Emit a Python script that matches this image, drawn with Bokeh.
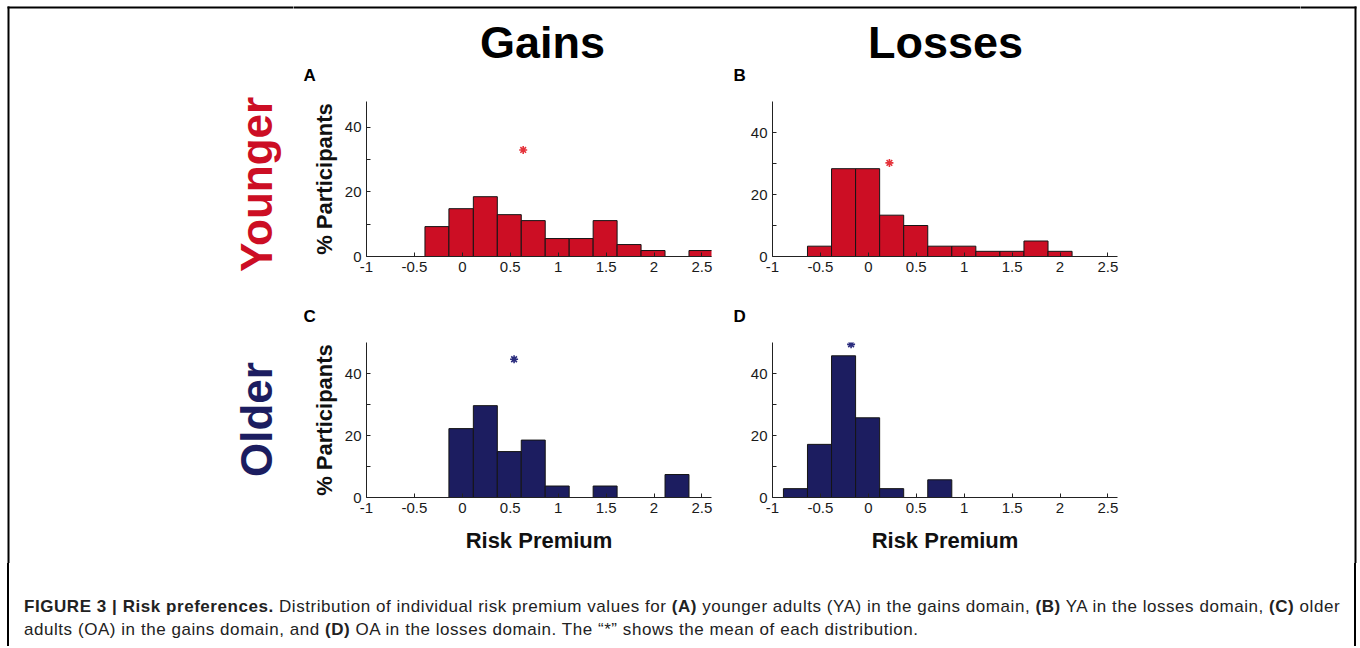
import numpy as np
from bokeh.plotting import figure
from bokeh.models import Range1d, FixedTicker, Div
from bokeh.layouts import column, row
from bokeh.embed import file_html
from bokeh.resources import INLINE
from bokeh.core.properties import value

# ---------------- data ----------------
x_ticks = [-1.0, -0.5, 0.0, 0.5, 1.0, 1.5, 2.0, 2.5]
x_tick_labels = ["-1", "-0.5", "0", "0.5", "1", "1.5", "2", "2.5"]
y_ticks = [0.0, 10.0, 20.0, 30.0, 40.0]
y_tick_labels = ["0", "", "20", "", "40"]

# A: younger adults, gains
a_edges = [-0.39, -0.14, 0.115, 0.365, 0.615, 0.865, 1.115, 1.365, 1.615, 1.865, 2.115, 2.365, 2.615]
a_pct = [9.26, 14.81, 18.52, 12.96, 11.11, 5.56, 5.56, 11.11, 3.70, 1.85, 0.0, 1.85]
a_mean = (0.635, 33.0)
# B: younger adults, losses
b_edges = [-0.635, -0.384, -0.133, 0.118, 0.369, 0.62, 0.871, 1.122, 1.373, 1.624, 1.875, 2.126]
b_pct = [3.33, 28.33, 28.33, 13.33, 10.0, 3.33, 3.33, 1.67, 1.67, 5.0, 1.67]
b_mean = (0.22, 30.2)
# C: older adults, gains
c_edges = [-0.14, 0.115, 0.365, 0.615, 0.865, 1.115, 1.365, 1.615, 1.865, 2.115, 2.365]
c_pct = [22.22, 29.63, 14.81, 18.52, 3.70, 0.0, 3.70, 0.0, 0.0, 7.41]
c_mean = (0.54, 44.6)
# D: older adults, losses
d_edges = [-0.886, -0.635, -0.384, -0.133, 0.118, 0.369, 0.62, 0.871]
d_pct = [2.86, 17.14, 45.71, 25.71, 2.86, 0.0, 5.71]
d_mean = (-0.18, 49.4)

column_titles = ["Gains", "Losses"]
row_titles = ["Younger", "Older"]
panel_letters = ["A", "B", "C", "D"]

RED = "#CC0E24"
RED_STAR = "#E5333B"
NAVY = "#1C1D60"
NAVY_STAR = "#2B2D7E"
FONT = "Liberation Sans"

# page geometry of the framing box (pixels)
FRAME_L, FRAME_R, FRAME_T = 8, 1355, 7
PAGE_W = 1358
MID_X0, MID_X1 = 293, 1300      # central column (panels)
BODY_H = 563                    # height above the caption


def filler(w, h, x0, x1, y0, y1):
    # ranges in page pixel coordinates (y flipped: y0 at top)
    f = figure(width=w, height=h, output_backend="svg", toolbar_location=None, title=None,
               x_axis_type=None, y_axis_type=None, min_border=0,
               x_range=Range1d(x0, x1), y_range=Range1d(y1, y0))
    f.outline_line_color = None
    f.grid.visible = False
    f.background_fill_color = "white"
    f.border_fill_color = "white"
    return f


def seg(f, x0, y0, x1, y1):
    f.segment(x0=[x0], y0=[y0], x1=[x1], y1=[y1], line_color="black", line_width=2)


def panel(edges, pct, mean, color, star_color, ymax, w, h, bl, br, bt, bb,
          ylabel=None, xlabel=None):
    p = figure(width=w, height=h, output_backend="svg", toolbar_location=None, title=None,
               x_range=Range1d(-1, 2.6), y_range=Range1d(0, ymax),
               min_border_left=bl, min_border_right=br,
               min_border_top=bt, min_border_bottom=bb)
    p.outline_line_color = None
    p.grid.visible = False
    p.background_fill_color = "white"
    p.border_fill_color = "white"
    p.quad(left=edges[:-1], right=edges[1:], bottom=0, top=pct,
           fill_color=color, line_color="#151515", line_width=1)
    p.scatter([mean[0]], [mean[1]], marker="asterisk", size=8,
              line_color=star_color, line_width=1.6)
    for ax in (p.xaxis[0], p.yaxis[0]):
        ax.axis_line_color = "#222222"
        ax.major_tick_line_color = "#222222"
        ax.major_tick_in = 4
        ax.major_tick_out = 0
        ax.minor_tick_in = 0
        ax.minor_tick_out = 0
        ax.major_label_text_font = FONT
        ax.major_label_text_font_size = "15px"
        ax.major_label_text_color = "#1a1a1a"
        ax.major_label_standoff = 5
        ax.axis_label_text_font = FONT
        ax.axis_label_text_font_style = "bold"
        ax.axis_label_text_font_size = "22px"
        ax.axis_label_text_color = "#111111"
    p.xaxis.ticker = FixedTicker(ticks=x_ticks)
    p.xaxis.major_label_overrides = dict(zip(x_ticks, x_tick_labels))
    p.yaxis.ticker = FixedTicker(ticks=y_ticks)
    p.yaxis.major_label_overrides = dict(zip(y_ticks, y_tick_labels))
    if ylabel:
        p.yaxis.axis_label = ylabel
        p.yaxis.axis_label_standoff = 5
    if xlabel:
        p.xaxis.axis_label = xlabel
        p.xaxis.axis_label_standoff = 12
    return p


def txt(f, x, y, s, size, color="black", align="center", angle=0.0):
    f.text(x=[x], y=[y], text=[s], text_font=value(FONT), text_font_style="bold",
           text_font_size=size, text_color=color, text_align=align,
           text_baseline="middle", angle=angle)


# ---------------- left strip: frame, row titles ----------------
left = filler(MID_X0, BODY_H, 0, MID_X0, 0, BODY_H)
seg(left, FRAME_L - 1, FRAME_T, MID_X0 + 5, FRAME_T)
seg(left, FRAME_L, FRAME_T - 1, FRAME_L, BODY_H + 5)
txt(left, 256, 271.5, row_titles[0], "44px", color=RED, align="left", angle=np.pi / 2)
txt(left, 256, 476.5, row_titles[1], "44px", color=NAVY, align="left", angle=np.pi / 2)

# ---------------- right strip: frame ----------------
right = filler(PAGE_W - MID_X1, BODY_H, MID_X1, PAGE_W, 0, BODY_H)
seg(right, MID_X1 - 5, FRAME_T, FRAME_R + 1, FRAME_T)
seg(right, FRAME_R, FRAME_T - 1, FRAME_R, BODY_H + 5)

# ---------------- centre column ----------------
MW = MID_X1 - MID_X0
header = filler(MW, 85, MID_X0, MID_X1, 0, 85)
seg(header, MID_X0 - 5, FRAME_T, MID_X1 + 5, FRAME_T)
txt(header, 542, 42, column_titles[0], "45px")
txt(header, 945, 42, column_titles[1], "45px")
txt(header, 303, 75, panel_letters[0], "17px", align="left")
txt(header, 733, 75, panel_letters[1], "17px", align="left")

pa = panel(a_edges, a_pct, a_mean, RED, RED_STAR, 48, 435, 205, 73, 17, 16, 34,
           ylabel="% Participants")
pb = panel(b_edges, b_pct, b_mean, RED, RED_STAR, 50, 572, 205, 44, 183, 16, 34)

mid = filler(MW, 44, MID_X0, MID_X1, 290, 334)
txt(mid, 303, 316, panel_letters[2], "17px", align="left")
txt(mid, 733, 316, panel_letters[3], "17px", align="left")

pc = panel(c_edges, c_pct, c_mean, NAVY, NAVY_STAR, 50, 435, 229, 73, 17, 8, 66,
           ylabel="% Participants", xlabel="Risk Premium")
pd_ = panel(d_edges, d_pct, d_mean, NAVY, NAVY_STAR, 50, 572, 229, 44, 183, 8, 66,
            xlabel="Risk Premium")

centre = column(header, row(pa, pb, spacing=0), mid, row(pc, pd_, spacing=0), spacing=0)

# ---------------- caption ----------------
cap_html = (
    "<div style=\"box-sizing:border-box;margin-left:7px;width:1349px;height:83px;"
    "border-left:2px solid #000;border-right:2px solid #000;"
    "font-family:'Liberation Sans',Arial,sans-serif;font-size:17px;"
    "letter-spacing:0.55px;line-height:23px;color:#222;white-space:nowrap;"
    "padding-left:15px;padding-top:32px;\">"
    "<b>FIGURE 3 | Risk preferences.</b> Distribution of individual risk premium values for "
    "<b>(A)</b> younger adults (YA) in the gains domain, <b>(B)</b> YA in the losses domain, "
    "<b>(C)</b> older<br>adults (OA) in the gains domain, and <b>(D)</b> OA in the losses domain. "
    "The \u201c*\u201d shows the mean of each distribution.</div>"
)
caption = Div(text=cap_html, width=PAGE_W, height=83, margin=0)

layout = column(row(left, centre, right, spacing=0), caption, spacing=0)

open("out.html", "w").write(file_html(layout, INLINE))
